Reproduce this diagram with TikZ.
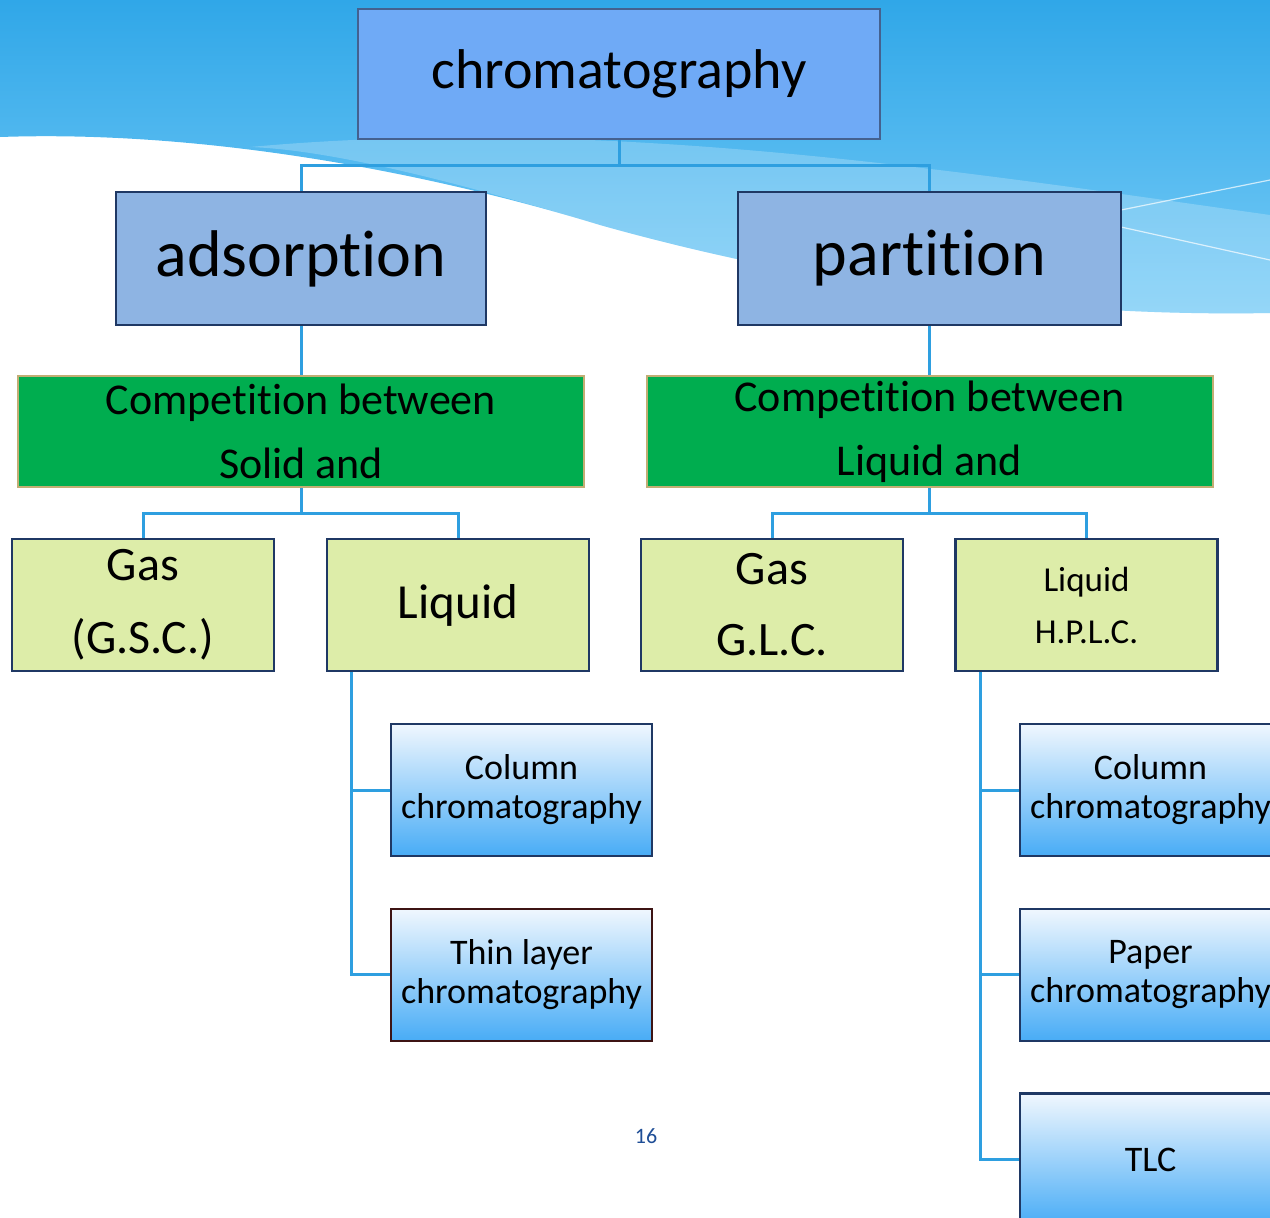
\documentclass[tikz,border=0pt]{standalone}
\usepackage{fontspec}
\setmainfont{Carlito}[Ligatures=CommonOff]
\usetikzlibrary{positioning}
\definecolor{bgtop}{HTML}{30A7E8}
\definecolor{bgbottom}{HTML}{78CCF7}
\definecolor{topfill}{HTML}{6FAAF6}
\definecolor{topedge}{HTML}{44618F}
\definecolor{catfill}{HTML}{8EB4E3}
\definecolor{navy}{HTML}{1F3864}
\definecolor{leafgreen}{HTML}{00AD4F}
\definecolor{tan}{HTML}{C2AE74}
\definecolor{limefill}{HTML}{DDEDA9}
\definecolor{techtop}{HTML}{F0F7FE}
\definecolor{techbottom}{HTML}{48ACF6}
\definecolor{maroon}{HTML}{3D1414}
\definecolor{linkblue}{HTML}{2E9FE0}
\definecolor{pagenum}{HTML}{1F4E96}

\begin{document}
\begin{tikzpicture}[x=0.5pt,y=-0.5pt,
            link/.style = {draw=linkblue,line width=1.5pt},
            topbox/.style = {draw=topedge,fill=topfill,line width=0.8pt,
                minimum width=261pt,minimum height=65pt,
                font=\fontsize{28}{30}\selectfont},
            catbox/.style = {draw=navy,fill=catfill,line width=1.3pt,
                minimum width=185pt,minimum height=66.5pt,
                font=\fontsize{33}{36}\selectfont},
            rulebox/.style = {draw=tan,fill=leafgreen,line width=1pt,
                minimum width=283pt,minimum height=55.5pt,align=center,
                inner ysep=0pt,font=\fontsize{22}{32}\selectfont},
            phasebox/.style = {draw=navy,fill=limefill,line width=1.2pt,
                minimum width=131pt,minimum height=66pt,align=center},
            techbox/.style = {draw=navy,line width=1.2pt,top color=techtop,
                bottom color=techbottom,minimum width=130.5pt,
                minimum height=66pt,align=center,
                font=\fontsize{18}{19.5}\selectfont}]
            \useasboundingbox (0,0) rectangle (1270,1217);
            % slide background
            \shade[top color=bgtop,bottom color=bgbottom] (0,0) -- (1270,0) -- (1270,313)
                .. controls (1000,318) and (760,270) .. (600,225)
                .. controls (420,170) and (200,130) .. (0,137) -- cycle;
            \fill[white,opacity=0.22] (250,147) .. controls (600,115) and (950,170) .. (1270,215)
                -- (1270,313) .. controls (1000,318) and (760,270) .. (600,225)
                .. controls (450,180) and (330,150) .. (250,147) -- cycle;
            \draw[white,opacity=0.7,line width=0.6pt] (1121,210) -- (1270,180)
                (1121,227) -- (1270,260);
            % tree
            \node[topbox] (chrom) at (619,74) {chromatography};
            \node[catbox] (ads) at (301,258.5) {adsorption};
            \node[catbox,minimum width=191.5pt] (part) at (929.5,258.5) {partition};
            \node[rulebox] (solid) at (301,431.5) {Competition between\\Solid and};
            \node[rulebox] (liqphase) at (929.5,431.5) {Competition between\\Liquid and};
            \node[phasebox,font=\fontsize{24}{36.5}\selectfont] (gsc) at (143,605) {Gas\\(G.S.C.)};
            \node[phasebox,font=\fontsize{24.5}{30}\selectfont] (lsc) at (458,605) {Liquid};
            \node[phasebox,font=\fontsize{24}{35.5}\selectfont] (glc) at (772,605) {Gas\\G.L.C.};
            \node[phasebox,font=\fontsize{17.5}{26}\selectfont] (hplc) at (1086.5,605) {Liquid\\H.P.L.C.};
            \node[techbox] (col1) at (521.5,790) {Column\\chromatography};
            \node[techbox,draw=maroon,below=25.2pt of col1] (thin) {Thin layer\\chromatography};
            \node[techbox] (col2) at (1150.5,790) {Column\\chromatography};
            \node[techbox,below=25.2pt of col2] (paper) {Paper\\chromatography};
            \node[techbox,below=25.2pt of paper] (tlc) {TLC};
            \node[text=pagenum,font=\fontsize{11}{13}\selectfont] (page) at (646,1136) {16};
            % connectors
            \draw[link] (chrom.south) -- ++(0,26) coordinate (fork) -| (ads.north);
            \draw[link] (fork) -| (part.north);
            \draw[link] (ads.south) -- (solid.north);
            \draw[link] (part.south) -- (liqphase.north);
            \draw[link] (solid.south) -- ++(0,25) coordinate (forkl) -| (gsc.north);
            \draw[link] (forkl) -| (lsc.north);
            \draw[link] (liqphase.south) -- ++(0,25) coordinate (forkr) -| (glc.north);
            \draw[link] (forkr) -| (hplc.north);
            \coordinate (steml) at ([xshift=13pt]lsc.south west);
            \draw[link] (steml) |- (col1.west);
            \draw[link] (steml) |- (thin.west);
            \coordinate (stemr) at ([xshift=13pt]hplc.south west);
            \draw[link] (stemr) |- (col2.west);
            \draw[link] (stemr) |- (paper.west);
            \draw[link] (stemr) |- (tlc.west);
        \end{tikzpicture}
\end{document}
